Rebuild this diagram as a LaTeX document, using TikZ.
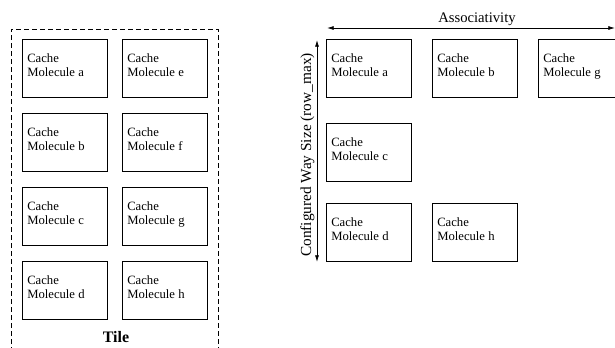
\documentclass[tikz,border=0pt]{standalone}
\usepackage{fontspec}
\setmainfont{Liberation Serif}
\usetikzlibrary{calc,arrows.meta}
\begin{document}
\begin{tikzpicture}[x=0.75pt,y=-0.75pt,
  mol/.style={draw, line width=0.6pt, minimum width=63.75pt, minimum height=43.5pt, inner sep=0pt, anchor=north west},
  moltxt/.style={anchor=north west, inner sep=0pt, align=left, font=\fontsize{9.5}{10.5}\selectfont},
  dim/.style={line width=0.6pt, {Latex[length=5pt,width=3pt]}-{Latex[length=5pt,width=3pt]}}]
\useasboundingbox (0,0) rectangle (615,347);
\clip (0,0) rectangle (615,347);
% Tile
\draw[line width=0.6pt, dash pattern=on 3.5pt off 2.5pt] (11,360) -- (11,29) -- (218,29) -- (218,360);
\foreach \n/\l/\x/\y in {la/a/22/39, lb/b/22/113, lc/c/22/187, ld/d/22/261,
                         le/e/122/39, lf/f/122/113, lg/g/122/187, lh/h/122/261} {
  \node[mol] (\n) at (\x,\y) {};
  \node[moltxt] (\n t) at ($(\n.north west)+(5,14)$) {Cache\\Molecule \l};
}
\node[anchor=base, inner sep=0pt, font=\fontsize{12}{14}\selectfont\bfseries] (tile) at (116,342) {Tile};
% Right side
\foreach \n/\l/\x/\y in {ra/a/326/39, rb/b/432/39, rg/g/538/39, rc/c/326/123, rd/d/326/203, rh/h/432/203} {
  \node[mol] (\n) at (\x,\y) {};
  \node[moltxt] (\n t) at ($(\n.north west)+(5,14)$) {Cache\\Molecule \l};
}
\coordinate (hl) at (327,28);
\coordinate (hr) at (615,28);
\draw[dim] (hl) -- (hr);
\node[anchor=base, inner sep=0pt, font=\fontsize{11}{13}\selectfont] (assoc) at (477,22) {Associativity};
\coordinate (vt) at (317,40);
\coordinate (vb) at (317,262);
\draw[dim] (vt) -- (vb);
\node[anchor=base, rotate=90, inner sep=0pt, font=\fontsize{11.5}{13}\selectfont] (way) at (311,155) {Configured Way Size (row\_max)};
\end{tikzpicture}
\end{document}
